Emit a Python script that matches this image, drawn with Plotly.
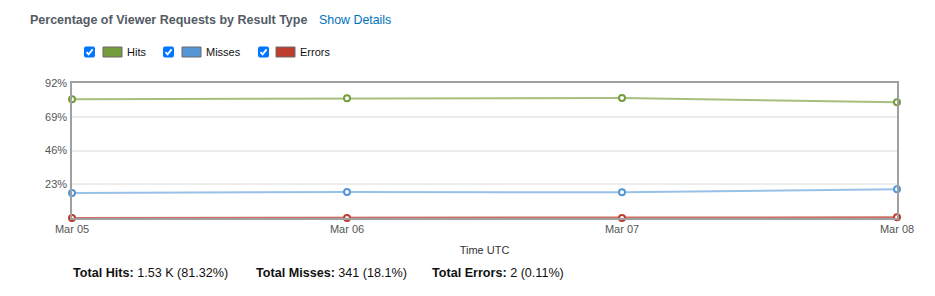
import plotly.graph_objects as go

dates = ["2024-03-05", "2024-03-06", "2024-03-07", "2024-03-08"]
tick_labels = ["Mar 05", "Mar 06", "Mar 07", "Mar 08"]
hits = [81.0, 81.6, 81.8, 78.8]
misses = [17.0, 17.7, 17.5, 19.6]
errors = [0.0, 0.0, 0.0, 0.5]
y_ticks = [23, 46, 69, 92]
series_names = ["Hits", "Misses", "Errors"]
series_colors = ["#769d3b", "#5596d6", "#bb3e2f"]
line_colors = ["rgba(118,157,59,0.65)", "rgba(85,150,214,0.6)", "rgba(187,62,47,0.75)"]
totals = [("Total Hits:", "1.53 K (81.32%)"), ("Total Misses:", "341 (18.1%)"), ("Total Errors:", "2 (0.11%)")]

W, H = 935, 296
L, R, T, B = 72, 897, 83, 218
FONT = "Liberation Sans, Arial, sans-serif"


def X(px):
    return (px - L) / (R - L)


def Y(py):
    return (B - py) / (B - T)


fig = go.Figure()
for name, vals, c, lc in zip(series_names, [hits, misses, errors], series_colors, line_colors):
    fig.add_trace(go.Scatter(
        x=dates, y=vals, name=name, mode="lines+markers",
        line=dict(color=lc, width=2),
        marker=dict(symbol="circle", size=6, color="white", line=dict(color=c, width=2)),
        cliponaxis=False, showlegend=False,
    ))

shapes = []
annotations = []

# Title
annotations.append(dict(xref="paper", yref="paper", x=X(29), y=Y(20), xanchor="left", yanchor="middle",
                        text="<b>Percentage of Viewer Requests by Result Type</b>", showarrow=False,
                        borderpad=0, font=dict(family=FONT, size=12.5, color="#545b64")))
annotations.append(dict(xref="paper", yref="paper", x=X(318), y=Y(20), xanchor="left", yanchor="middle",
                        text="Show Details", showarrow=False,
                        borderpad=0, font=dict(family=FONT, size=12.4, color="#0073bb")))

# Legend with checkboxes
cb_x = [84, 163, 258]
sw_x = [103, 182, 276]
tx_x = [127, 206, 300]
cy = 52
for i, name in enumerate(series_names):
    x0, x1 = cb_x[i], cb_x[i] + 11
    y0, y1 = cy - 5.5, cy + 5.5
    r = 2
    path = (f"M {X(x0+r)},{Y(y0)} L {X(x1-r)},{Y(y0)} Q {X(x1)},{Y(y0)} {X(x1)},{Y(y0+r)} "
            f"L {X(x1)},{Y(y1-r)} Q {X(x1)},{Y(y1)} {X(x1-r)},{Y(y1)} "
            f"L {X(x0+r)},{Y(y1)} Q {X(x0)},{Y(y1)} {X(x0)},{Y(y1-r)} "
            f"L {X(x0)},{Y(y0+r)} Q {X(x0)},{Y(y0)} {X(x0+r)},{Y(y0)} Z")
    shapes.append(dict(type="path", xref="paper", yref="paper", path=path,
                       fillcolor="#0075ff", line=dict(width=0)))
    check = (f"M {X(x0+2.5)},{Y(cy+0.2)} L {X(x0+4.6)},{Y(cy+2.4)} L {X(x0+8.6)},{Y(cy-2.6)}")
    shapes.append(dict(type="path", xref="paper", yref="paper", path=check,
                       line=dict(color="white", width=1.8)))
    shapes.append(dict(type="rect", xref="paper", yref="paper",
                       x0=X(sw_x[i]), x1=X(sw_x[i] + 19), y0=Y(cy - 5), y1=Y(cy + 5),
                       fillcolor=series_colors[i], line=dict(color="#6b6b6b", width=1)))
    annotations.append(dict(xref="paper", yref="paper", x=X(tx_x[i] - 1), y=Y(cy), xanchor="left", yanchor="middle",
                            text=name, showarrow=False, borderpad=0,
                            font=dict(family=FONT, size=11, color="#111")))

# Totals
tot_x = [72, 255, 431]
for (lab, val), tx in zip(totals, tot_x):
    annotations.append(dict(xref="paper", yref="paper", x=X(tx), y=Y(273), xanchor="left", yanchor="middle",
                            text=f"<b>{lab}</b> {val}", showarrow=False, borderpad=0,
                            font=dict(family=FONT, size=12.6, color="#111")))

fig.update_layout(
    width=W, height=H,
    margin=dict(l=L, r=W - R, t=T, b=H - B),
    paper_bgcolor="white", plot_bgcolor="white",
    shapes=shapes, annotations=annotations,
    font=dict(family=FONT, size=11, color="#555"),
    xaxis=dict(
        type="date", range=[dates[0], dates[-1]],
        tickvals=dates, ticktext=tick_labels,
        showgrid=False, zeroline=False,
        showline=True, mirror=True, linecolor="#a0a0a0", linewidth=1.5,
        ticks="", tickfont=dict(size=11, color="#555"),
        title=dict(text="Time UTC", font=dict(size=11, color="#333"), standoff=12),
    ),
    yaxis=dict(
        range=[0, 92], tickvals=y_ticks, ticktext=[f"{v}%" for v in y_ticks],
        showgrid=True, gridcolor="#ececec", gridwidth=1.5, zeroline=False,
        showline=True, mirror=True, linecolor="#a0a0a0", linewidth=1.5,
        ticks="outside", ticklen=1, tickcolor="rgba(0,0,0,0)",
        tickfont=dict(size=11, color="#555"),
    ),
)

fig.write_html("out.html")
